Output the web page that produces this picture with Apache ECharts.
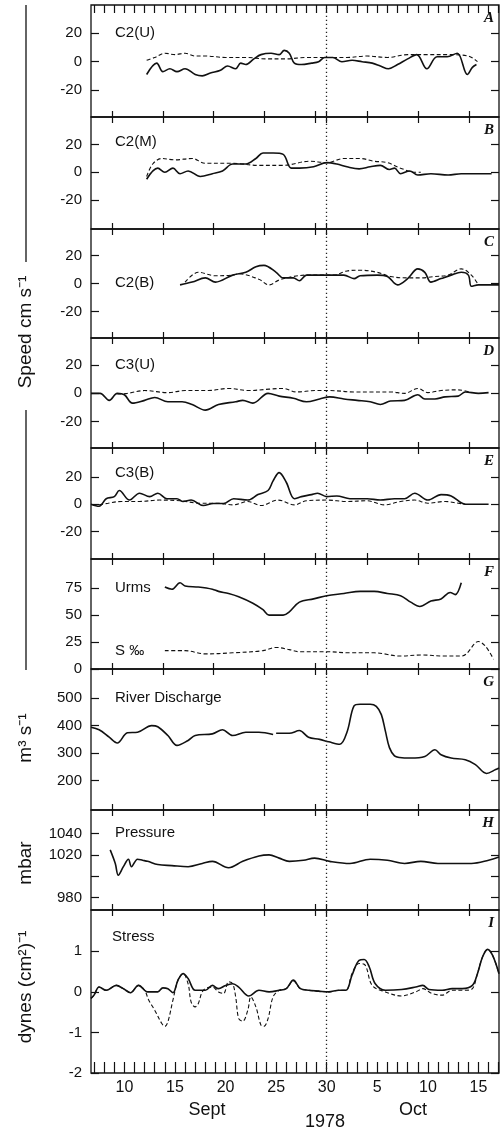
<!DOCTYPE html>
<html>
<head>
<meta charset="utf-8">
<script src="https://cdn.jsdelivr.net/npm/echarts@6/dist/echarts.min.js"></script>
<style>
  html, body { margin: 0; padding: 0; background: #fff; }
  #chart { width: 502px; height: 1127px; }
</style>
</head>
<body>
<div id="chart"></div>
<script>
// Time axis: day number counted from 1 Sept 1978 (Oct 1 = 31)
const X_MIN = 6.7, X_MAX = 47.03;
const DAILY_TICKS = [7,8,9,10,11,12,13,14,15,16,17,18,19,20,21,22,23,24,25,26,27,28,29,30,31,32,33,34,35,36,37,38,39,40,41,42,43,44,45,46,47];
const BOUNDARY_TICKS = [8.8, 13.8, 18.8, 23.85, 28.85, 30, 34, 39, 44.1];
const DATE_LABEL_DAYS = [10, 15, 20, 25, 30, 35, 40, 45];

// A  C2(U)
const c2uSolidDays = [12.2, 13.2, 13.8, 14.5, 15.2, 16, 17, 17.7, 18.5, 19.5, 20.2, 21, 21.5, 22, 22.8, 23.5, 24.5, 25.3, 25.8, 26.3, 26.8, 27.5, 28.5, 29.2, 29.8, 30.6, 31.5, 32.5, 33.5, 34.5, 35.3, 36.1, 37, 38, 38.9, 39.9, 40.9, 41.9, 42.9, 43.9, 44.4, 44.8];
const c2uSolid     = [-9, -1, -7, -5, -7, -5, -9, -10, -8, -6, -3, -5, -1, -2, 2, 5, 6, 5, 8, 6, -1, -2, -1, 0, 3, 3, 0, 1, 0, -1, -3, -5, -2, 2, 5, -5, 3.5, 3.5, 6, -9, -4, -2];
const c2uDashDays  = [12.2, 13, 14, 15, 16, 17, 18, 20, 22, 24, 26, 28, 30, 32, 34, 36, 38, 40, 42, 44, 44.9];
const c2uDash      = [1, 3, 6, 5, 6, 4, 4, 3, 3, 2, 2, 3, 3, 3, 4, 3, 5, 5, 5, 4, 0];

// B  C2(M)
const c2mSolidDays = [12.2, 13.3, 14, 14.8, 15.5, 16.3, 17.5, 18.7, 19.7, 20.7, 22, 23, 23.7, 24.7, 25.7, 26.5, 27.3, 28.7, 30, 31, 32, 33.2, 34.3, 35.3, 36.2, 36.7, 37.3, 38.2, 39, 40.3, 42, 43.3, 44.7, 46.3];
const c2mSolid     = [-5, 3, 0, 3, -1, 1, -3, -1, 1, 6, 6, 10, 14, 14, 13, 3, 3, 4, 7, 6, 4, 2.5, 4, 5, 2, 3, -1, 1, -2, -1, -2, -1, -1, -1];
const c2mDashDays  = [12.2, 12.8, 13.7, 15, 16.7, 18, 20.7, 23.3, 25.7, 28.3, 30, 31.7, 33.3, 34.7, 36, 37.3, 38.7, 39.3];
const c2mDash      = [-3, 6, 10, 9, 10, 6.5, 6.5, 5, 5, 8, 7, 10, 10, 8, 7, 3, 0, 0];

// C  C2(B)
const c2bSolidDays = [15.5, 16.7, 18, 19, 20.7, 22, 23, 23.8, 25, 25.7, 26.7, 27.3, 28, 29.3, 30.7, 31.7, 32.7, 33.3, 35, 36, 37, 38, 39, 39.7, 40.3, 41.3, 42.3, 43.3, 44, 44.3, 45, 46.3, 47.03];
const c2bSolid     = [-1, 1, 4, 1, 6, 8, 12, 13, 8, 4, 4, 2, 6, 6, 6, 6, 3.5, 5.5, 6, 5, -1, 3.5, 10.5, 8, 1, 3.5, 6, 8, 6, -2, -1, -1, -1];
const c2bDashDays  = [16, 17.3, 19, 20.7, 21.3, 23.3, 24.3, 25.3, 26.7, 28, 29.3, 30.7, 32, 33.3, 35, 36.3, 38, 39.3, 40.7, 42, 43.3, 44.3, 45];
const c2bDash      = [1, 8, 5.5, 6, 7, 3, -1, 2.5, 5, 6, 6, 6, 9, 9.5, 8, 5, 4, 4, 5, 6, 10.5, 6, -1];

// D  C3(U)
const c3uSolidDays = [6.7, 7.6, 8.5, 9.3, 10, 10.8, 12, 13, 14.3, 15.7, 16.7, 18, 19.3, 21, 21.7, 22.7, 24.2, 25.3, 26.7, 28, 29.3, 30.3, 31.7, 33, 34.3, 35.3, 36.3, 37.7, 39, 39.7, 40.7, 41.7, 43, 43.7, 45, 46];
const c3uSolid     = [0, 0, -5, 0, -1, -7, -5, -3, -6, -6, -8, -12, -8, -6, -5, -7, 0, -2, -3.5, -6, -4, -2.5, -4, -5, -6, -8, -5.5, -5, -1, -4, -4, -2.5, -2, 1, 0, 0.5];
const c3uDashDays  = [9.3, 10.3, 12, 14.3, 16, 18.3, 20.3, 22.3, 24.3, 25.7, 27, 29, 30.3, 32.7, 34.3, 36.3, 37.7, 39, 40, 41.3, 43, 44.3];
const c3uDash      = [-0.5, 0, 2, 0.5, 2, 2, 3.5, 2, 3, 3.5, 1, 2, 2, 1, 1, 1, 0, 3.5, 0.5, 2, 2.5, 0.5];

// E  C3(B)
const c3bSolidDays = [6.7, 7.5, 8.2, 9, 9.5, 10.5, 11.5, 12.5, 13.3, 14.2, 15.2, 15.8, 16.6, 17.8, 18.8, 19.8, 20.8, 22.2, 23.2, 24.2, 24.7, 25.3, 26, 26.8, 27.5, 28.5, 29.1, 30, 31, 32.3, 34, 35.3, 36.7, 37.7, 38.7, 40, 41.3, 42.3, 43.7, 44.7, 46];
const c3bSolid     = [0, -1.5, 4, 5.5, 10, 3, 8, 5.5, 8, 4, 4, 2, 3, -1, 0.5, 0.5, 4, 3, 7, 10, 17, 23, 16, 4, 5.5, 7, 8, 5.5, 6, 4, 4, 3, 4, 4, 8, 3, 7, 6, 0, 0, 0];
const c3bDashDays  = [7.5, 8.4, 9.7, 11.5, 13.5, 15.5, 17.5, 19.1, 20.8, 22.2, 23.5, 25.2, 26.8, 28, 30, 32, 34, 35.7, 37.3, 38.7, 40, 41.7, 43, 43.7];
const c3bDash      = [-0.5, 0.7, 2, 2, 3, 2.5, 0.7, 0.7, -0.5, 2, -1, 3, -0.5, 2.5, 3, 2, 2.5, -0.5, 2, 3, 0.7, 2, 0.7, 0];

// F  Urms and salinity
const urmsDays = [14, 14.7, 15.5, 16, 17.3, 18.7, 19.3, 20.3, 21.3, 22.7, 23.7, 24.3, 25.7, 26.3, 27.3, 28.7, 30, 31.7, 33.3, 34.7, 36, 37.3, 38.3, 39.2, 40.3, 41.3, 42.2, 42.7, 43.3];
const urms     = [76, 74, 80, 77, 76, 74, 72, 70, 67, 61, 55, 50, 50, 53, 62, 65, 68, 70, 72, 72, 70, 68, 62, 58, 63, 65, 71, 69, 80];
const salDays  = [14, 16, 18, 20.7, 23.7, 25, 26.3, 27.3, 30, 32.3, 34.7, 37.3, 39.3, 41.7, 43.3, 43.8, 45, 45.7, 46.5];
const salinity = [17, 17, 14, 15, 17, 20, 18, 16, 16, 15, 15, 12, 13, 12, 12, 14, 25.5, 21, 9];

// G  River discharge (m3 s-1)
const dischargeDays = [6.7, 7.5, 8.5, 9.3, 10.3, 11.3, 12.7, 13.3, 14.3, 15.2, 16.3, 17, 18.7, 19.7, 20.7, 22, 23.3, 24.7, 24.85, 25.0, 26.3, 27.3, 28.2, 29.3, 30.2, 31.3, 32, 32.7, 33.3, 34.3, 34.9, 35.4, 35.8, 36.2, 36.7, 37.2, 38.3, 39.7, 40.7, 41.3, 42.3, 43.7, 44.7, 45.8, 46.7, 47.03];
const discharge     = [394, 385, 358, 337, 374, 376, 400, 396, 364, 328, 346, 364, 370, 385, 364, 376, 376, 368, null, 372, 372, 382, 358, 350, 341, 332, 376, 472, 478, 478, 470, 440, 380, 320, 290, 284, 282, 288, 312, 294, 282, 276, 258, 226, 240, 246];

// H  Pressure (mbar)
const pressureDays = [8.6, 9.1, 9.4, 9.9, 10.4, 10.7, 11.3, 11.8, 12.3, 13.3, 14.7, 16.3, 17.7, 18.7, 20.3, 21.7, 23.3, 24.3, 25.3, 26.3, 27.7, 28.8, 30.3, 32.3, 34.3, 36, 37.7, 39.3, 41, 42.3, 44.3, 46, 47.03];
const pressure     = [1024.7, 1012, 1001, 1009, 1016, 1009, 1016, 1015, 1014, 1011, 1010, 1009, 1012, 1014, 1008, 1014, 1019, 1020, 1017, 1014, 1015, 1017, 1014, 1012, 1016, 1015, 1012, 1014, 1012, 1012, 1012, 1015, 1018];

// I  Wind stress (dynes cm-2)
const stressSolidDays = [6.7, 7.0, 7.5, 8.2, 9.2, 9.9, 10.6, 11.4, 12.3, 13.3, 13.8, 14.3, 14.8, 15.3, 15.8, 16.3, 17, 18, 18.7, 19.3, 20, 20.7, 21.3, 22.3, 23.3, 24.3, 25.3, 26, 26.7, 27.4, 28.2, 29.2, 30.2, 31.2, 31.9, 32.5, 33.2, 33.7, 34.2, 34.8, 35.8, 37.4, 38.8, 39.5, 40.1, 41.4, 42.4, 43.4, 44.4, 44.9, 45.4, 45.9, 46.4, 47.03];
const stressSolid     = [-0.16, -0.08, 0.12, 0.04, 0.16, 0.08, -0.02, 0.16, 0, 0, 0.1, 0.08, -0.02, 0.29, 0.45, 0.33, 0.04, 0.04, 0.16, 0.08, 0.16, 0.2, 0.12, -0.1, 0.04, 0, 0.04, 0.08, 0.29, 0.08, 0.04, 0.02, 0, 0.04, 0.04, 0.41, 0.78, 0.8, 0.62, 0.2, 0.04, 0.06, 0.12, 0.16, 0.06, 0.04, 0.08, 0.08, 0.16, 0.45, 0.86, 1.05, 0.9, 0.45];
const stressDashDays  = [6.7, 7.0, 7.5, 8.2, 9.2, 9.9, 10.6, 11.4, 12.0, 12.4, 13.0, 13.7, 14.0, 14.3, 14.8, 15.3, 15.8, 16.3, 16.6, 17.0, 17.3, 17.8, 18.7, 19.3, 19.8, 20.3, 20.7, 21.0, 21.3, 21.7, 22.2, 22.5, 23.0, 23.5, 23.8, 24.2, 24.7, 25.3, 26, 26.7, 27.4, 28.2, 29.2, 30.2, 31.2, 31.9, 32.5, 33.2, 33.8, 34.5, 35.8, 37.4, 38.8, 39.5, 40.4, 41.4, 42.4, 43.7, 44.4, 44.9, 45.4, 45.9, 46.4, 47.03];
const stressDash      = [-0.16, -0.08, 0.12, 0.04, 0.16, 0.08, -0.02, 0.16, 0.04, -0.2, -0.45, -0.78, -0.85, -0.74, -0.2, 0.29, 0.45, 0.2, -0.25, -0.37, -0.29, 0.04, 0.12, 0, -0.04, 0.25, 0.2, -0.12, -0.66, -0.72, -0.45, -0.12, -0.37, -0.82, -0.85, -0.66, -0.12, 0.04, 0.08, 0.27, 0.08, 0.04, 0.02, 0, 0.04, 0.04, 0.45, 0.7, 0.66, 0.16, 0, -0.1, 0, 0.08, -0.04, -0.08, 0.04, 0.04, 0.08, 0.45, 0.86, 1.05, 0.9, 0.45];

// Panel layout and vertical scales
const FONT = '"Liberation Sans", Arial, Helvetica, sans-serif';
const INK = '#111';
const panels = [
  { letter: 'A', top: 5,   h: 112, min: -39,   max: 40,   ticks: [-20, 0, 20], labels: [-20, 0, 20],
    series: [[c2uSolidDays, c2uSolid, 'solid'], [c2uDashDays, c2uDash, 'dash']] },
  { letter: 'B', top: 117, h: 112, min: -41,   max: 40,   ticks: [-20, 0, 20], labels: [-20, 0, 20],
    series: [[c2mSolidDays, c2mSolid, 'solid'], [c2mDashDays, c2mDash, 'dash']] },
  { letter: 'C', top: 229, h: 109, min: -39,   max: 39,   ticks: [-20, 0, 20], labels: [-20, 0, 20],
    series: [[c2bSolidDays, c2bSolid, 'solid'], [c2bDashDays, c2bDash, 'dash']] },
  { letter: 'D', top: 338, h: 110, min: -39,   max: 39.5, ticks: [-20, 0, 20], labels: [-20, 0, 20],
    series: [[c3uSolidDays, c3uSolid, 'solid'], [c3uDashDays, c3uDash, 'dash']] },
  { letter: 'E', top: 448, h: 111, min: -40,   max: 41,   ticks: [-20, 0, 20], labels: [-20, 0, 20],
    series: [[c3bSolidDays, c3bSolid, 'solid'], [c3bDashDays, c3bDash, 'dash']] },
  { letter: 'F', top: 559, h: 110, min: 0,     max: 102,  ticks: [0, 25, 50, 75], labels: [0, 25, 50, 75],
    series: [[urmsDays, urms, 'solid'], [salDays, salinity, 'dash']] },
  { letter: 'G', top: 669, h: 141, min: 93,    max: 606,  ticks: [200, 300, 400, 500], labels: [200, 300, 400, 500],
    series: [[dischargeDays, discharge, 'solid']] },
  { letter: 'H', top: 810, h: 100, min: 968.5, max: 1062, ticks: [980, 1000, 1020, 1040], labels: [980, 1020, 1040],
    series: [[pressureDays, pressure, 'solid']] },
  { letter: 'I', top: 910, h: 163, min: -2,    max: 2.02, ticks: [-2, -1, 0, 1], labels: [-2, -1, 0, 1],
    series: [[stressSolidDays, stressSolid, 'solid'], [stressDashDays, stressDash, 'dash']] }
];

const zip = (xs, ys) => xs.map((x, k) => [x, ys[k]]);

const grid = [], xAxis = [], yAxis = [], series = [];
panels.forEach((p, i) => {
  const first = i === 0, last = i === panels.length - 1;
  grid.push({ left: 91, width: 408, top: p.top, height: p.h, show: true,
              borderColor: INK, borderWidth: 1.3, backgroundColor: 'transparent' });
  // bottom axis
  xAxis.push({
    type: 'value', gridIndex: i, min: X_MIN, max: X_MAX, position: 'bottom',
    axisLine: { show: false, onZero: false }, splitLine: { show: false },
    axisTick: { show: true, inside: true, length: last ? 11 : 6,
                customValues: last ? DAILY_TICKS : BOUNDARY_TICKS,
                lineStyle: { color: INK, width: 1.2 } },
    axisLabel: last ? {
      show: true, customValues: DATE_LABEL_DAYS, margin: 7,
      fontFamily: FONT, fontSize: 16, color: INK,
      formatter: v => String(v > 30 ? v - 30 : v)
    } : { show: false }
  });
  // top axis
  xAxis.push({
    type: 'value', gridIndex: i, min: X_MIN, max: X_MAX, position: 'top',
    axisLine: { show: false, onZero: false }, splitLine: { show: false },
    axisTick: { show: true, inside: true, length: first ? 8 : 6,
                customValues: first ? DAILY_TICKS : BOUNDARY_TICKS,
                lineStyle: { color: INK, width: 1.2 } },
    axisLabel: { show: false }
  });
  // left axis
  yAxis.push({
    type: 'value', gridIndex: i, min: p.min, max: p.max, position: 'left',
    axisLine: { show: false, onZero: false }, splitLine: { show: false },
    axisTick: { show: true, inside: true, length: 8, customValues: p.ticks,
                lineStyle: { color: INK, width: 1.2 } },
    axisLabel: { show: true, customValues: p.labels, margin: 9,
                 fontFamily: FONT, fontSize: 15, color: INK,
                 formatter: v => String(v) }
  });
  // right axis
  yAxis.push({
    type: 'value', gridIndex: i, min: p.min, max: p.max, position: 'right',
    axisLine: { show: false, onZero: false }, splitLine: { show: false },
    axisTick: { show: true, inside: true, length: 8, customValues: p.ticks,
                lineStyle: { color: INK, width: 1.2 } },
    axisLabel: { show: false }
  });

  p.series.forEach(([days, vals, kind], k) => {
    const s = {
      type: 'line', xAxisIndex: 2 * i, yAxisIndex: 2 * i,
      data: zip(days, vals), showSymbol: false, smooth: 0.35,
      connectNulls: false, silent: true,
      lineStyle: kind === 'solid'
        ? { color: INK, width: 1.6 }
        : { color: INK, width: 1.1, type: [4, 2.5] }
    };
    if (k === 0) {
      // 30 Sept reference line
      s.markLine = {
        silent: true, symbol: 'none', label: { show: false },
        lineStyle: { color: '#222', width: 1.3, type: [1.3, 2.7] },
        data: [{ xAxis: 30 }]
      };
    }
    series.push(s);
  });
});

// Panel captions and axis titles
const txt = (text, x, y, extra) => ({
  type: 'text', x, y, silent: true,
  style: Object.assign({ text, fill: INK, font: '15px ' + FONT, align: 'left', verticalAlign: 'middle' }, extra || {})
});
const rot = (text, x, y) => ({
  type: 'text', x, y, rotation: Math.PI / 2, silent: true,
  style: { text, fill: INK, font: '19px ' + FONT, align: 'center', verticalAlign: 'middle' }
});

const graphic = [
  txt('C2(U)', 115, 33), txt('C2(M)', 115, 142), txt('C2(B)', 115, 283),
  txt('C3(U)', 115, 365), txt('C3(B)', 115, 473),
  txt('Urms', 115, 588), txt('S ‰', 115, 651),
  txt('River Discharge', 115, 698), txt('Pressure', 115, 833), txt('Stress', 112, 937),
  rot('Speed cm s⁻¹', 26, 332),
  rot('m³ s⁻¹', 26, 738),
  rot('mbar', 26, 863),
  rot('dynes (cm²)⁻¹', 26, 987),
  { type: 'line', silent: true, shape: { x1: 26, y1: 5, x2: 26, y2: 262 }, style: { stroke: INK, lineWidth: 1.3 } },
  { type: 'line', silent: true, shape: { x1: 26, y1: 410, x2: 26, y2: 670 }, style: { stroke: INK, lineWidth: 1.3 } },
  txt('Sept', 207, 1110, { font: '18px ' + FONT, align: 'center' }),
  txt('Oct', 413, 1110, { font: '18px ' + FONT, align: 'center' }),
  txt('1978', 325, 1122, { font: '18px ' + FONT, align: 'center' })
];
panels.forEach(p => {
  graphic.push(txt(p.letter, 494, p.top + 13, {
    font: 'italic bold 15px "Liberation Serif", "Times New Roman", serif', align: 'right'
  }));
});

const chart = echarts.init(document.getElementById('chart'), null, { renderer: 'canvas' });
chart.setOption({
  animation: false,
  backgroundColor: '#fff',
  grid, xAxis, yAxis, series, graphic
});
</script>
</body>
</html>
